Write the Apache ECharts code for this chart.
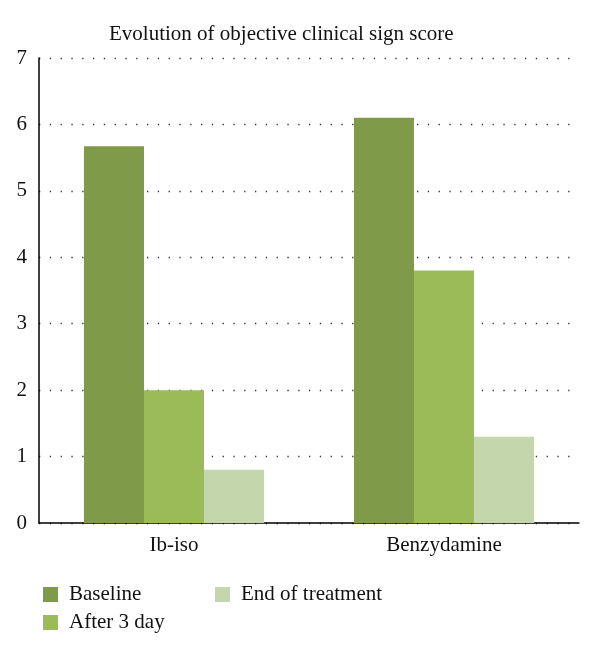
<!DOCTYPE html>
<html><head><meta charset="utf-8">
<script src="https://cdn.jsdelivr.net/npm/echarts@6/dist/echarts.min.js"></script>
<style>html,body{margin:0;padding:0;background:#fff}#c{width:600px;height:651px}</style>
</head><body><div id="c"></div>
<script>
const categories = ["Ib-iso", "Benzydamine"];
const seriesNames = ["Baseline", "After 3 day", "End of treatment"];
const baseline = [5.67, 6.1];
const after3day = [2.0, 3.8];
const endTreatment = [0.8, 1.3];
const yTicks = [0, 1, 2, 3, 4, 5, 6, 7];

const colors = ["#7f9a48", "#9bbb59", "#c4d6ac"];
const serif = "'Liberation Serif', 'DejaVu Serif', serif";
const chart = echarts.init(document.getElementById('c'));
chart.setOption({
  animation: false,
  title: {text: "Evolution of objective clinical sign score", left: 104, top: 19,
    textStyle: {fontFamily: serif, fontSize: 21, fontWeight: 'normal', color: '#111'}},
  legend: [
    {data: [seriesNames[0], seriesNames[1]], orient: 'vertical', left: 38, top: 579,
     itemWidth: 15, itemHeight: 15, itemGap: 7, icon: 'rect',
     textStyle: {fontFamily: serif, fontSize: 21, color: '#111', padding: [0, 0, 0, 6]}},
    {data: [seriesNames[2]], orient: 'vertical', left: 210, top: 579,
     itemWidth: 15, itemHeight: 15, icon: 'rect',
     textStyle: {fontFamily: serif, fontSize: 21, color: '#111', padding: [0, 0, 0, 6]}}
  ],
  grid: {left: 39, right: 21, top: 58, bottom: 128},
  xAxis: {type: 'category', data: categories,
    axisLine: {lineStyle: {color: '#000', width: 1.5}}, axisTick: {show: false},
    axisLabel: {fontFamily: serif, fontSize: 21, color: '#111', margin: 12}},
  yAxis: {type: 'value', min: yTicks[0], max: yTicks[yTicks.length-1], interval: 1,
    axisLine: {show: true, lineStyle: {color: '#000', width: 1.5}}, axisTick: {show: false},
    axisLabel: {fontFamily: serif, fontSize: 21, color: '#111', margin: 12},
    splitLine: {lineStyle: {color: '#333', type: [1.3, 9.5], width: 1.3}}},
  series: [
    {name: seriesNames[0], type: 'bar', data: baseline, itemStyle: {color: colors[0]}, barGap: '0%', barCategoryGap: '33.3%'},
    {name: seriesNames[1], type: 'bar', data: after3day, itemStyle: {color: colors[1]}},
    {name: seriesNames[2], type: 'bar', data: endTreatment, itemStyle: {color: colors[2]}}
  ]
});
</script></body></html>
